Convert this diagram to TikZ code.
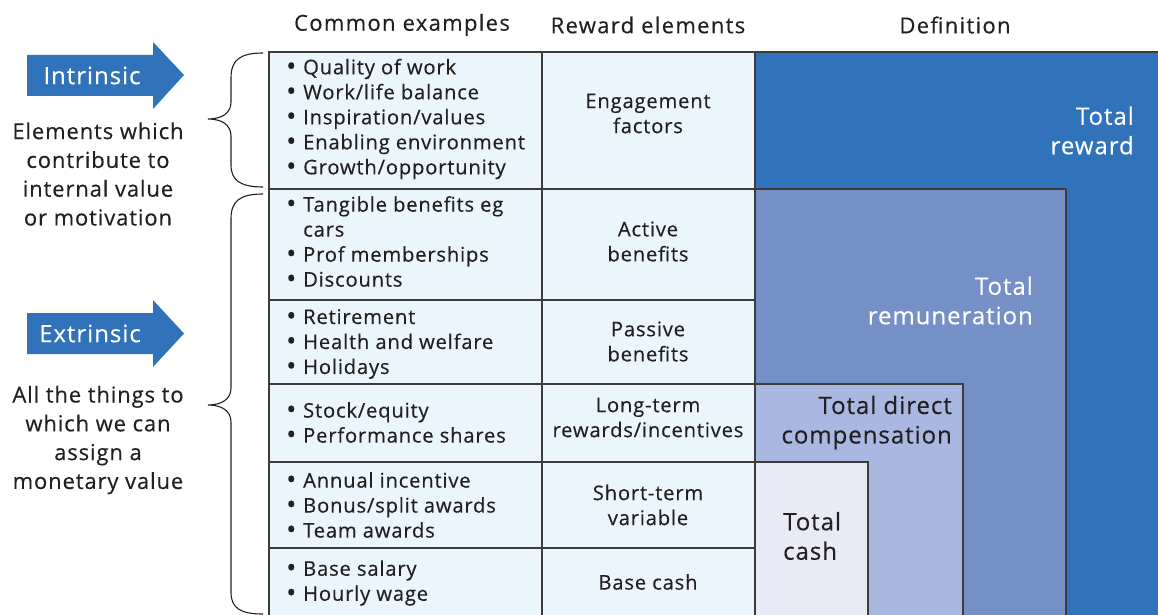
\documentclass[tikz,border=0pt]{standalone}
\usepackage{fontspec}
\setmainfont{Open Sans}[LetterSpace=4,FakeBold=0.35]
\definecolor{trew}{HTML}{3173BA}
\definecolor{trem}{HTML}{7490C6}
\definecolor{tdc}{HTML}{A9B8E0}
\definecolor{tcash}{HTML}{E8EAF5}
\definecolor{cell}{HTML}{EAF6FC}
\definecolor{ink}{HTML}{231F20}
\definecolor{rule}{HTML}{3C3C3C}
\newcommand\bul{\makebox[17pt][l]{\raisebox{-1.2pt}{\fontsize{27}{25}\selectfont •}}}
\begin{document}
\begin{tikzpicture}[x=1pt,y=-1pt,
  txt/.style={font=\fontsize{20.2}{25}\selectfont, text=ink, inner sep=0pt},
  lst/.style={txt, align=left, anchor=west},
  ctr/.style={txt, align=center},
  hdr/.style={font=\fontsize{22}{25}\addfontfeatures{LetterSpace=6}\selectfont, text=ink, inner sep=0pt},
  side/.style={font=\fontsize{22}{28.8}\selectfont, text=ink, inner sep=0pt, align=center},
  arrlbl/.style={font=\fontsize{24}{29}\selectfont, text=white, inner sep=0pt},
  deflbl/.style={font=\fontsize{24}{29.5}\selectfont, inner sep=0pt},
  cellbox/.style={fill=cell, draw=rule, line width=1.3pt},
  defbox/.style={draw=rule, line width=1.3pt},
  brace/.style={draw=ink, line width=1.1pt},
]
\useasboundingbox (0,0) rectangle (1158,615);
\clip (0,0) rectangle (1158,615);

% definition boxes
\path[defbox, fill=trew] (755,52) rectangle (1175,640);
\path[defbox, fill=trem] (755,189) rectangle (1066,640);
\path[defbox, fill=tdc] (755,384) rectangle (963,640);
\path[defbox, fill=tcash] (755,462) rectangle (868,640);

% table cells
\foreach \t/\b in {52/189,189/300,300/384,384/462,462/548,548/640}{
  \path[cellbox] (269,\t) rectangle (542,\b);
  \path[cellbox] (542,\t) rectangle (755,\b);
}

% headers
\node[hdr] (hce) at (402,25) {Common examples};
\node[hdr] (hre) at (648,25) {Reward elements};
\node[hdr] (hdef) at (955,25) {Definition};

% common examples
\node[lst] (l1) at (286,119) {\bul Quality of work\\ \bul Work/life balance\\ \bul Inspiration/values\\ \bul Enabling environment\\ \bul Growth/opportunity};
\node[lst] (l2) at (286,242) {\bul Tangible benefits eg\\ \hspace*{17pt}cars\\ \bul Prof memberships\\ \bul Discounts};
\node[lst] (l3) at (286,344) {\bul Retirement\\ \bul Health and welfare\\ \bul Holidays};
\node[lst] (l4) at (286,423) {\bul Stock/equity\\ \bul Performance shares};
\node[lst] (l5) at (286,505.5) {\bul Annual incentive\\ \bul Bonus/split awards\\ \bul Team awards};
\node[lst] (l6) at (286,583) {\bul Base salary\\ \bul Hourly wage};

% reward elements
\node[ctr] (r1) at (648,113.5) {Engagement\\factors};
\node[ctr] (r2) at (648,241.5) {Active\\benefits};
\node[ctr] (r3) at (648,341.5) {Passive\\benefits};
\node[ctr] (r4) at (648,417.5) {Long-term\\rewards/incentives};
\node[ctr] (r5) at (648,505) {Short-term\\variable};
\node[ctr] (r6) at (648,582) {Base cash};

% definition labels
\node[deflbl, text=white, align=right, anchor=east] (d1) at (1134,130.5) {Total\\reward};
\node[deflbl, text=white, align=right, anchor=east] (d2) at (1033,300.5) {Total\\remuneration};
\node[deflbl, text=ink, align=right, anchor=east] (d3) at (952,422.5) {Total direct\\compensation};
\node[deflbl, text=ink, align=left, anchor=west] (d4) at (783,536) {Total\\cash};

% arrows
\fill[trew] (27,55) -- (153,55) -- (153,42) -- (184,75) -- (153,109) -- (153,96) -- (27,96) -- cycle;
\node[arrlbl] (ai) at (92,75.5) {Intrinsic};
\fill[trew] (27,313) -- (153,313) -- (153,300) -- (184,333.5) -- (153,367) -- (153,354) -- (27,354) -- cycle;
\node[arrlbl] (ae) at (90,333.5) {Extrinsic};

% side texts
\node[side] (s1) at (98,174) {Elements which\\contribute to\\internal value\\or motivation};
\node[side] (s2) at (98,440) {All the things to\\which we can\\assign a\\monetary value};

% braces
\draw[brace] (263,53) .. controls (240,53) and (231,60) .. (231,78) -- (231,102) .. controls (231,113) and (222,119) .. (208,119) .. controls (222,119) and (231,125) .. (231,136) -- (231,165) .. controls (231,180) and (240,187) .. (263,187);
\draw[brace] (263,194) .. controls (240,194) and (231,201) .. (231,219) -- (231,388) .. controls (231,399) and (222,405) .. (208,405) .. controls (222,405) and (231,411) .. (231,422) -- (231,592) .. controls (231,608) and (240,614) .. (263,614);
\end{tikzpicture}
\end{document}
